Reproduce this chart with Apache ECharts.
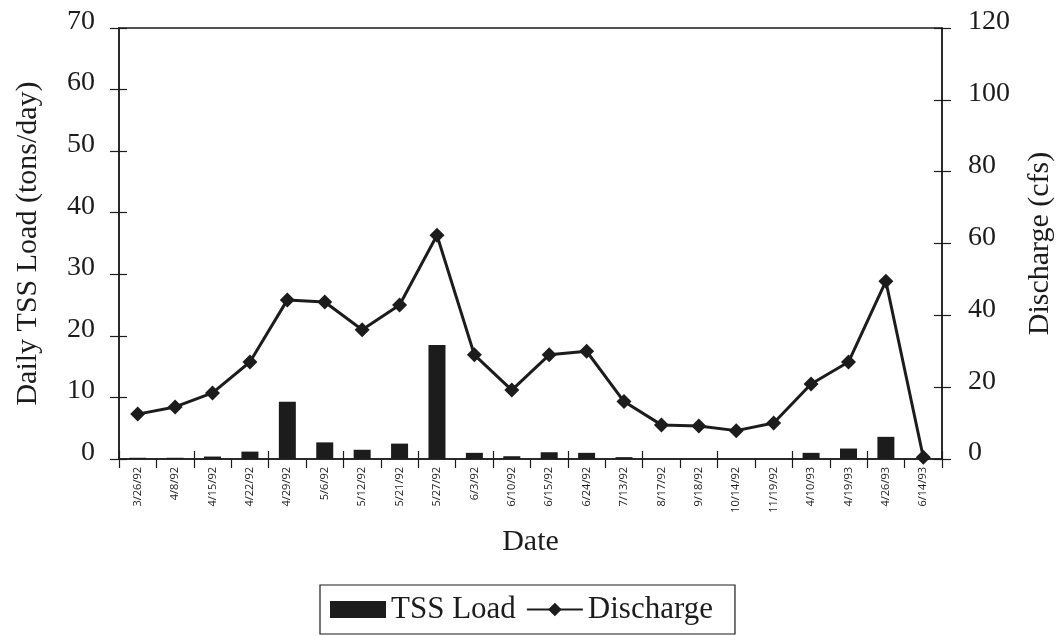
<!DOCTYPE html>
<html><head><meta charset="utf-8">
<script src="https://cdn.jsdelivr.net/npm/echarts@6/dist/echarts.min.js"></script>
<style>html,body{margin:0;padding:0;background:#fff}#c{width:1056px;height:636px}</style>
</head><body><div id="c"></div>
<script>
const dates = ['3/26/92','4/8/92','4/15/92','4/22/92','4/29/92','5/6/92','5/12/92','5/21/92','5/27/92','6/3/92','6/10/92','6/15/92','6/24/92','7/13/92','8/17/92','9/18/92','10/14/92','11/19/92','4/10/93','4/19/93','4/26/93','6/14/93'];
const tssLoad = [0.2,0.2,0.4,1.2,9.3,2.7,1.5,2.5,18.5,1.0,0.45,1.1,1.0,0.3,0,0,0,0,1.0,1.7,3.6,0];
const discharge = [12.5,14.5,18.4,27,44.3,43.7,36,42.9,62.3,29,19.2,29,30,16,9.5,9.2,7.9,10,20.9,27,49.5,0.5];
const leftMax = 70, leftStep = 10, rightMax = 120, rightStep = 20;

const ink = '#1c1c1c';
const serif = '"Liberation Serif", "DejaVu Serif", serif';
const line = {show:true, lineStyle:{color:ink, width:1.5}};
const tickOut = {show:true, inside:false, length:9, lineStyle:{color:ink, width:1.2}};
const tickIn = {show:true, inside:true, length:8, lineStyle:{color:ink, width:1.2}};

const chart = echarts.init(document.getElementById('c'));
chart.setOption({
  animation:false,
  backgroundColor:'#fff',
  grid:{left:119, right:114, top:28, bottom:177, show:true, borderColor:ink, borderWidth:1.5,
        containLabel:false, outerBoundsMode:'none'},
  legend:{
    data:[{name:'TSS Load', icon:'rect'},{name:'Discharge'}],
    left:320, top:585, itemWidth:56, itemHeight:17, itemGap:10,
    borderColor:ink, borderWidth:1.2, borderRadius:0, padding:[9,22,9,10],
    textStyle:{fontFamily:serif, fontSize:31, color:ink}
  },
  xAxis:[
    {type:'category', data:dates, boundaryGap:true, axisLine:line, axisTick:tickOut,
     axisLabel:{rotate:90, fontSize:11, color:ink, fontFamily:'"Open Sans", sans-serif', margin:8, interval:0},
     name:'Date', nameLocation:'middle', nameGap:68,
     nameTextStyle:{fontFamily:serif, fontSize:30, color:ink}},
    {type:'category', data:dates, position:'bottom', boundaryGap:true, axisLine:{show:false}, axisTick:tickIn, axisLabel:{show:false}}
  ],
  yAxis:[
    {type:'value', min:0, max:leftMax, interval:leftStep, position:'left',
     axisLine:line, axisTick:tickOut, splitLine:{show:false},
     axisLabel:{fontFamily:serif, fontSize:28, color:ink, margin:24, verticalAlign:'bottom', lineHeight:13},
     name:'Daily TSS Load (tons/day)', nameLocation:'middle', nameGap:76,
     nameTextStyle:{fontFamily:serif, fontSize:30, color:ink}},
    {type:'value', min:0, max:rightMax, interval:rightStep, position:'right',
     axisLine:line, axisTick:tickOut, splitLine:{show:false},
     axisLabel:{fontFamily:serif, fontSize:28, color:ink, margin:26, verticalAlign:'bottom', lineHeight:12},
     name:'Discharge (cfs)', nameLocation:'middle', nameGap:83,
     nameTextStyle:{fontFamily:serif, fontSize:30, color:ink}},
    {type:'value', min:0, max:leftMax, interval:leftStep, position:'left',
     axisLine:{show:false}, axisTick:tickIn, axisLabel:{show:false}, splitLine:{show:false}},
    {type:'value', min:0, max:rightMax, interval:rightStep, position:'right',
     axisLine:{show:false}, axisTick:tickIn, axisLabel:{show:false}, splitLine:{show:false}}
  ],
  series:[
    {name:'TSS Load', type:'bar', data:tssLoad, xAxisIndex:0, yAxisIndex:0, barWidth:17,
     itemStyle:{color:ink}},
    {name:'Discharge', type:'line', data:discharge, xAxisIndex:0, yAxisIndex:1,
     symbol:'diamond', symbolSize:15, lineStyle:{color:ink, width:3}, itemStyle:{color:ink}, z:5}
  ]
});
</script></body></html>
